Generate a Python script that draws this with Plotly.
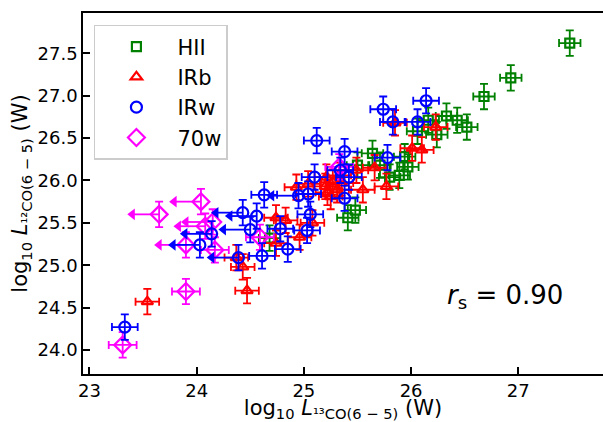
import numpy as np
import plotly.graph_objects as go

# ---- data (log10 luminosities, W) ----
hii_x = [27.48, 26.93, 26.68, 26.52, 26.43, 26.33, 26.16, 26.24, 26.06, 25.97, 25.94, 25.80,
         25.89, 25.64, 25.50, 25.41, 25.48, 24.68, 25.71]
hii_y = [27.62, 27.21, 26.99, 26.63, 26.71, 26.76, 26.71, 26.54, 26.58, 26.16, 26.28, 26.04,
         26.06, 26.32, 26.18, 25.56, 25.65, 25.32, 26.18]
hii_lim = [0] * 19

irb_x = [23.54, 24.47, 24.43, 24.37, 24.74, 24.83, 24.74, 24.96, 25.08, 24.93, 25.04, 25.21,
         25.27, 25.22, 25.31, 25.35, 25.49, 25.55, 25.66, 25.77, 25.85, 26.23, 26.01, 26.10,
         25.25, 25.20, 25.33]
irb_y = [24.57, 24.70, 24.98, 25.09, 25.56, 25.53, 25.26, 25.33, 25.50, 25.92, 25.96, 26.04,
         25.98, 25.86, 25.89, 25.97, 26.12, 25.89, 26.15, 25.93, 26.68, 26.63, 26.38, 26.36,
         25.81, 25.93, 26.06]
irb_lim = [0] * 27

irw_x = [23.33, 24.39, 24.61, 24.85, 25.12, 25.38, 25.10, 25.34, 25.42, 25.38, 24.63, 24.95,
         25.04, 25.06, 24.43, 24.56, 24.50, 24.78, 25.03, 24.14, 24.03, 25.74, 25.83, 26.14,
         26.06, 25.78]
irw_y = [24.27, 25.09, 25.11, 25.19, 26.47, 26.34, 26.04, 26.12, 26.04, 25.79, 25.83, 25.82,
         25.84, 25.60, 25.62, 25.58, 25.42, 25.43, 25.41, 25.37, 25.24, 26.84, 26.69, 26.94,
         26.69, 26.27]
irw_lim = [0, 1, 0, 0, 0, 0, 0, 0, 0, 0, 0, 1, 0, 0, 1, 1, 1, 0, 0, 1, 1, 0, 0, 0, 0, 0]

w70_x = [23.31, 23.90, 24.04, 23.65, 24.08, 24.15, 23.90, 24.17, 24.59, 25.33]
w70_y = [24.06, 24.69, 25.75, 25.60, 25.46, 25.51, 25.24, 25.18, 25.33, 26.16]
w70_lim = [0, 0, 1, 1, 1, 1, 1, 0, 0, 0]

xerr = {"HII": 0.10, "IRb": 0.11, "IRw": 0.12, "70w": 0.13}
yerr = {"HII": 0.15, "IRb": 0.15, "IRw": 0.15, "70w": 0.15}
lim_len = 0.25
rs_text = "<i>r</i><sub>s</sub> = 0.90"

fig = go.Figure()


def add_group(name, x, y, lim, color, symbol, size, rank):
    x = np.array(x, float)
    y = np.array(y, float)
    lim = np.array(lim, bool)
    n = ~lim
    fig.add_trace(go.Scatter(
        x=x[n], y=y[n], mode="markers", name=name, legendrank=rank,
        marker=dict(symbol=symbol, size=size, color=color, line=dict(width=2.2, color=color)),
        error_x=dict(type="constant", value=xerr[name], color=color, thickness=1.8, width=4),
        error_y=dict(type="constant", value=yerr[name], color=color, thickness=1.8, width=4),
    ))
    if lim.any():
        fig.add_trace(go.Scatter(
            x=x[lim], y=y[lim], mode="markers", showlegend=False,
            marker=dict(symbol=symbol, size=size, color=color, line=dict(width=2.2, color=color)),
            error_x=dict(type="constant", symmetric=False, value=0, valueminus=lim_len,
                         color=color, thickness=1.8, width=0),
            error_y=dict(type="constant", value=yerr[name], color=color, thickness=1.8, width=4),
        ))
        fig.add_trace(go.Scatter(
            x=x[lim] - lim_len, y=y[lim], mode="markers", showlegend=False, hoverinfo="skip",
            marker=dict(symbol="triangle-left", size=10, color=color, line=dict(width=0)),
        ))


add_group("HII", hii_x, hii_y, hii_lim, "#008000", "square-open", 9, 1)
add_group("IRb", irb_x, irb_y, irb_lim, "#ff0000", "triangle-up-open", 10, 2)
add_group("70w", w70_x, w70_y, w70_lim, "#ff00ff", "diamond-open", 13, 4)
add_group("IRw", irw_x, irw_y, irw_lim, "#0000ff", "circle-open", 11, 3)

fig.add_annotation(x=26.88, y=24.63, xref="x", yref="y", text=rs_text, showarrow=False,
                   font=dict(size=26, color="black"), xanchor="center", yanchor="middle")

fig.update_layout(
    width=603, height=422,
    margin=dict(l=83, r=0, t=13, b=48),
    plot_bgcolor="white", paper_bgcolor="white",
    font=dict(family="DejaVu Sans", size=18, color="black"),
    legend=dict(x=0.021, y=0.967, xanchor="left", yanchor="top",
                bgcolor="rgba(255,255,255,0.8)", bordercolor="#cccccc", borderwidth=1.5,
                font=dict(size=21), itemwidth=72),
)
fig.update_xaxes(
    range=[22.94, 27.79], tickvals=[23, 24, 25, 26, 27], ticktext=["23", "24", "25", "26", "27"],
    ticks="inside", ticklen=7, tickwidth=1.5, tickcolor="black",
    showline=True, linewidth=1.5, linecolor="black", mirror=True,
    showgrid=False, zeroline=False,
    title=dict(text="log<sub>10</sub> <i>L</i><sub>¹³CO(6 − 5)</sub> (W)", font=dict(size=21), standoff=7),
)
fig.update_yaxes(
    range=[23.717, 27.975], tickvals=[24.0, 24.5, 25.0, 25.5, 26.0, 26.5, 27.0, 27.5],
    ticktext=["24.0", "24.5", "25.0", "25.5", "26.0", "26.5", "27.0", "27.5"],
    ticks="inside", ticklen=7, tickwidth=1.5, tickcolor="black",
    showline=True, linewidth=1.5, linecolor="black", mirror=False,
    showgrid=False, zeroline=False,
    title=dict(text="log<sub>10</sub> <i>L</i><sub>¹²CO(6 − 5)</sub> (W)", font=dict(size=21), standoff=4),
)

fig.write_html("out.html")
